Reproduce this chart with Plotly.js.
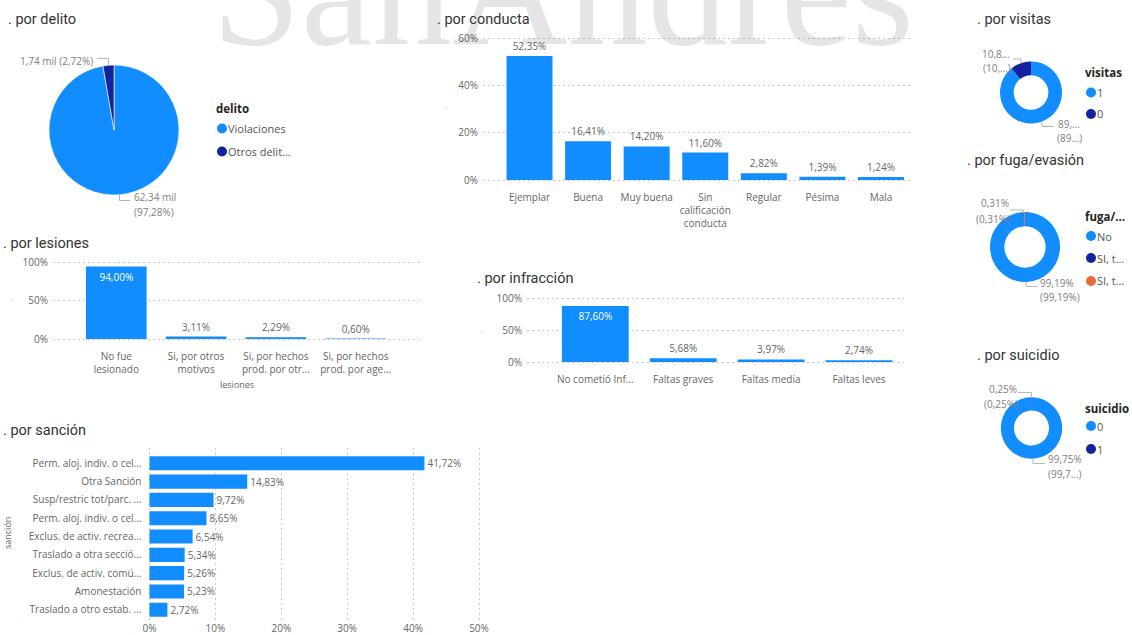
<!DOCTYPE html>
<html><head><meta charset="utf-8">
<script src="https://cdn.plot.ly/plotly-3.0.1.min.js"></script>
<style>html,body{margin:0;padding:0;background:#fff;overflow:hidden}#chart{width:1132px;height:635px}</style>
</head><body><div id="chart"></div>
<script>
// ---------------- data ----------------
const delitoLabels = ['Violaciones', 'Otros delit...'];
const delitoMiles = [62.34, 1.74];

const conductaCats = ['Ejemplar', 'Buena', 'Muy buena', 'Sin<br>calificación<br>conducta', 'Regular', 'Pésima', 'Mala'];
const conductaPct = [52.35, 16.41, 14.20, 11.60, 2.82, 1.39, 1.24];
const conductaTicks = [0, 20, 40, 60];

const visitasLabels = ['1', '0'];
const visitasPct = [89.17, 10.83];
const visitasDataLabels = [['89,...', '(89...)'], ['10,8...', '(10,...)']];

const fugaLabels = ['No', 'SI, t...', 'SI, t...'];
const fugaPct = [99.19, 0.50, 0.31];

const suicidioLabels = ['0', '1'];
const suicidioPct = [99.75, 0.25];
const suicidioDataLabels = [['99,75%', '(99,7...)'], ['0,25%', '(0,25%)']];

const lesionesCats = ['No fue<br>lesionado', 'Si, por otros<br>motivos', 'Si, por hechos<br>prod. por otr...', 'Si, por hechos<br>prod. por age...'];
const lesionesPct = [94.00, 3.11, 2.29, 0.60];
const tick3 = [0, 50, 100];

const infraccionCats = ['No cometió Inf...', 'Faltas graves', 'Faltas media', 'Faltas leves'];
const infraccionPct = [87.60, 5.68, 3.97, 2.74];

const sancionCats = ['Perm. aloj. indiv. o cel...', 'Otra Sanción', 'Susp/restric tot/parc. ...', 'Perm. aloj. indiv. o cel...', 'Exclus. de activ. recrea...', 'Traslado a otra secció...', 'Exclus. de activ. comú...', 'Amonestación', 'Traslado a otro estab. ...'];
const sancionPct = [41.72, 14.83, 9.72, 8.65, 6.54, 5.34, 5.26, 5.23, 2.72];
const sancionTicks = [0, 10, 20, 30, 40, 50];

// ---------------- style ----------------
const W = 1132, H = 635;
const px = x => x / W, py = y => 1 - y / H;
const FONT = '"Open Sans", "Noto Sans", sans-serif';
const TFONT = 'Roboto, "Open Sans", sans-serif';
const BLUE = '#118DFF', NAVY = '#12239E', ORANGE = '#E66C37';
const TICK = '#666666', LBL = '#808080', GRID = '#cacaca', TITLE = '#333333', LEG = '#555555';
const fmt2 = v => v.toFixed(2).replace('.', ',');
const pctText = arr => arr.map(v => v + '%');

// value axis placement: value a at pixel pa, value b at pixel pb, padded by PAD px so end gridlines are drawn
const PAD = 3;
function vAxisY(a, pa, b, pb) { // vertical, pixel grows downward
  const u = (pa - pb) / (b - a);
  return {range: [a - PAD / u, b + PAD / u], domain: [py(pa + PAD), py(pb - PAD)]};
}
function vAxisX(a, pa, b, pb) {
  const u = (pb - pa) / (b - a);
  return {range: [a - PAD / u, b + PAD / u], domain: [px(pa - PAD), px(pb + PAD)]};
}

const annotations = [];
const shapes = [];
function ann(text, x, y, o) {
  annotations.push(Object.assign({text: text, x: px(x), y: py(y), xref: 'paper', yref: 'paper', showarrow: false,
    xanchor: 'left', yanchor: 'middle', borderpad: 0, font: {family: FONT, size: 10, color: LBL}}, o || {}));
}
function leader(pts) {
  const d = pts.map((p, i) => (i ? 'L' : 'M') + px(p[0]) + ',' + py(p[1])).join(' ');
  shapes.push({type: 'path', xref: 'paper', yref: 'paper', path: d, line: {color: '#b5b5b5', width: 1}});
}
function dot(cx, cy, color) {
  shapes.push({type: 'circle', xref: 'paper', yref: 'paper', x0: px(cx - 5), x1: px(cx + 5), y0: py(cy + 5), y1: py(cy - 5),
    fillcolor: color, line: {width: 0}});
}
function legend(title, x, y, labels, colors, ys) {
  ann('<b>' + title + '</b>', x - 1, y, {font: {family: FONT, size: 11.5, color: '#252423'}});
  labels.forEach((l, i) => { dot(x + 6, ys[i], colors[i]); ann(l, x + 11, ys[i], {font: {family: FONT, size: 11, color: LEG}}); });
}
function title(t, x, y) { ann(t, x, y, {font: {family: TFONT, size: 14.5, color: TITLE}}); }
function pieDomain(cx, cy, r) { return {x: [px(cx - r), px(cx + r)], y: [py(cy + r), py(cy - r)]}; }

// watermark
ann('SanAndres', 211, 45 + 160 * 0.216, {yanchor: 'bottom', font: {family: '"Liberation Serif", serif', size: 160, color: 'rgba(0,0,0,0.10)'}});

// titles
title('. por delito', 7, 20);
title('. por conducta', 436, 20);
title('. por visitas', 976, 20);
title('. por fuga/evasión', 966, 160);
title('. por suicidio', 976, 355);
title('. por lesiones', 2, 243);
title('. por infracción', 476, 278);
title('. por sanción', 2, 430);

// legends
legend('delito', 216, 109, delitoLabels, [BLUE, NAVY], [128.5, 151.5]);
legend('visitas', 1085, 72, visitasLabels, [BLUE, NAVY], [92.5, 114]);
legend('fuga/...', 1085, 216, fugaLabels, [BLUE, NAVY, ORANGE], [236, 258, 281]);
legend('suicidio', 1085, 408, suicidioLabels, [BLUE, NAVY], [426, 449]);

// pie data labels
const delitoTot = delitoMiles.reduce((a, b) => a + b, 0);
const delitoShare = delitoMiles.map(v => 100 * v / delitoTot);
ann(fmt2(delitoMiles[1]) + ' mil (' + fmt2(delitoShare[1]) + '%)', 94, 61, {xanchor: 'right'});
leader([[97, 58.5], [108.5, 58.5], [108.5, 65]]);
ann(fmt2(delitoMiles[0]) + ' mil', 133, 197);
ann('(' + fmt2(delitoShare[0]) + '%)', 133, 212);
leader([[119.5, 195], [119.5, 200.5], [130.5, 200.5]]);

ann(visitasDataLabels[1][0], 996, 53.5, {xanchor: 'center'});
ann(visitasDataLabels[1][1], 997, 67.5, {xanchor: 'center'});
leader([[1013, 59], [1021, 59], [1021, 63]]);
ann(visitasDataLabels[0][0], 1057, 124.5);
ann(visitasDataLabels[0][1], 1056, 137.5);
leader([[1042, 122], [1042, 126.5], [1054, 126.5]]);

ann(fmt2(fugaPct[2]) + '%', 995, 203.5, {xanchor: 'center'});
ann('(' + fmt2(fugaPct[2]) + '%)', 993, 218.5, {xanchor: 'center'});
leader([[1010, 210], [1023.5, 210], [1023.5, 213]]);
ann(fmt2(fugaPct[0]) + '%', 1039, 282.5);
ann('(' + fmt2(fugaPct[0]) + '%)', 1039, 297);
leader([[1026, 282], [1026, 286.5], [1037, 286.5]]);

ann(suicidioDataLabels[1][0], 1003, 388.5, {xanchor: 'center'});
ann(suicidioDataLabels[1][1], 1001, 403.5, {xanchor: 'center'});
leader([[1018, 392.5], [1031.5, 392.5], [1031.5, 398]]);
ann(suicidioDataLabels[0][0], 1047, 459);
ann(suicidioDataLabels[0][1], 1047, 473.5);
leader([[1033, 458.5], [1033, 463.5], [1045, 463.5]]);

// axis titles / truncated axis title dots
ann('lesiones', 237, 384, {xanchor: 'center', font: {family: FONT, size: 9, color: TICK}});
ann('sanción', 7, 533, {xanchor: 'center', textangle: -90, font: {family: FONT, size: 9, color: TICK}});
ann('.', 446, 106, {xanchor: 'center', font: {family: FONT, size: 8, color: '#aaa'}});
ann('.', 12, 297, {xanchor: 'center', font: {family: FONT, size: 8, color: '#aaa'}});
ann('.', 482, 328, {xanchor: 'center', font: {family: FONT, size: 8, color: '#aaa'}});

// ---------------- traces ----------------
const tickFont = {family: FONT, size: 10, color: TICK};
const barBase = {type: 'bar', marker: {color: BLUE, line: {width: 0}}, cliponaxis: false, constraintext: 'none',
  textfont: {family: FONT, size: 10, color: TICK}, insidetextfont: {family: FONT, size: 10, color: '#ffffff'},
  outsidetextfont: {family: FONT, size: 10, color: TICK}, hoverinfo: 'skip'};
const pieBase = {type: 'pie', sort: false, direction: 'clockwise', rotation: 0, textinfo: 'none', hoverinfo: 'skip', showlegend: false};

const data = [
  Object.assign({}, pieBase, {labels: delitoLabels, values: delitoMiles, domain: pieDomain(114, 130, 65),
    marker: {colors: [BLUE, NAVY], line: {color: '#ffffff', width: 0.6}}}),
  Object.assign({}, pieBase, {labels: visitasLabels, values: visitasPct, hole: 0.56, domain: pieDomain(1031, 92.5, 31),
    marker: {colors: [BLUE, NAVY], line: {width: 0}}}),
  Object.assign({}, pieBase, {labels: fugaLabels.map((l, i) => i + ':' + l), values: fugaPct, hole: 0.59, domain: pieDomain(1025, 247, 35),
    marker: {colors: [BLUE, NAVY, ORANGE], line: {width: 0}}}),
  Object.assign({}, pieBase, {labels: suicidioLabels, values: suicidioPct, hole: 0.57, domain: pieDomain(1031.5, 428, 30.7),
    marker: {colors: [BLUE, NAVY], line: {width: 0}}}),
  Object.assign({}, barBase, {x: conductaCats, y: conductaPct, xaxis: 'x', yaxis: 'y', width: 0.785,
    texttemplate: '%{y:.2f}%', textposition: 'outside'}),
  Object.assign({}, barBase, {x: lesionesCats, y: lesionesPct, xaxis: 'x2', yaxis: 'y2', width: 0.76,
    texttemplate: '%{y:.2f}%', textposition: lesionesPct.map(v => v > 50 ? 'inside' : 'outside'), insidetextanchor: 'end'}),
  Object.assign({}, barBase, {x: infraccionCats, y: infraccionPct, xaxis: 'x3', yaxis: 'y3', width: 0.76,
    texttemplate: '%{y:.2f}%', textposition: infraccionPct.map(v => v > 50 ? 'inside' : 'outside'), insidetextanchor: 'end'}),
  Object.assign({}, barBase, {orientation: 'h', x: sancionPct, y: sancionCats.map((c, i) => i), xaxis: 'x4', yaxis: 'y4', width: 0.77,
    texttemplate: '%{x:.2f}%', textposition: 'outside'})
];

const catX = {type: 'category', showgrid: false, zeroline: false, showline: false, ticks: '', tickfont: tickFont, fixedrange: true};
const pctY = {showgrid: true, gridcolor: GRID, griddash: '2px,3px', gridwidth: 1, zeroline: false, showline: false, ticks: '',
  tickmode: 'array', tickfont: tickFont, fixedrange: true, ticklabelstandoff: 7 - PAD};

const layout = {
  width: W, height: H, margin: {l: 0, r: 0, t: 0, b: 0}, paper_bgcolor: '#ffffff', plot_bgcolor: 'rgba(0,0,0,0)',
  showlegend: false, hovermode: false, separators: ',.', font: {family: FONT, size: 10, color: TICK},
  xaxis: Object.assign({}, catX, {domain: [px(483), px(910)], range: [-0.794, 6.495], anchor: 'y', ticklabelstandoff: 10 - PAD}),
  yaxis: Object.assign({}, pctY, vAxisY(0, 180, 60, 38), {tickvals: conductaTicks, ticktext: pctText(conductaTicks), anchor: 'x'}),
  xaxis2: Object.assign({}, catX, {domain: [px(53), px(420)], range: [-0.793, 3.806], anchor: 'y2', ticklabelstandoff: 10 - PAD}),
  yaxis2: Object.assign({}, pctY, vAxisY(0, 339, 100, 262), {tickvals: tick3, ticktext: pctText(tick3), anchor: 'x2'}),
  xaxis3: Object.assign({}, catX, {domain: [px(527), px(907)], range: [-0.777, 3.546], anchor: 'y3', ticklabelstandoff: 10 - PAD}),
  yaxis3: Object.assign({}, pctY, vAxisY(0, 362, 100, 298), {tickvals: tick3, ticktext: pctText(tick3), anchor: 'x3'}),
  xaxis4: Object.assign({}, pctY, vAxisX(0, 149.5, 50, 479), {tickvals: sancionTicks, ticktext: pctText(sancionTicks), anchor: 'y4', ticklabelstandoff: 1}),
  yaxis4: {domain: [py(620), py(448)], range: [8.56, -0.836], tickmode: 'array', tickvals: sancionCats.map((c, i) => i), ticktext: sancionCats,
    showgrid: false, zeroline: false, showline: false, ticks: '', tickfont: tickFont, fixedrange: true, anchor: 'x4', ticklabelstandoff: 7 - PAD},
  annotations: annotations,
  shapes: shapes
};

Plotly.newPlot('chart', data, layout, {staticPlot: true, displayModeBar: false});
</script>
</body></html>
